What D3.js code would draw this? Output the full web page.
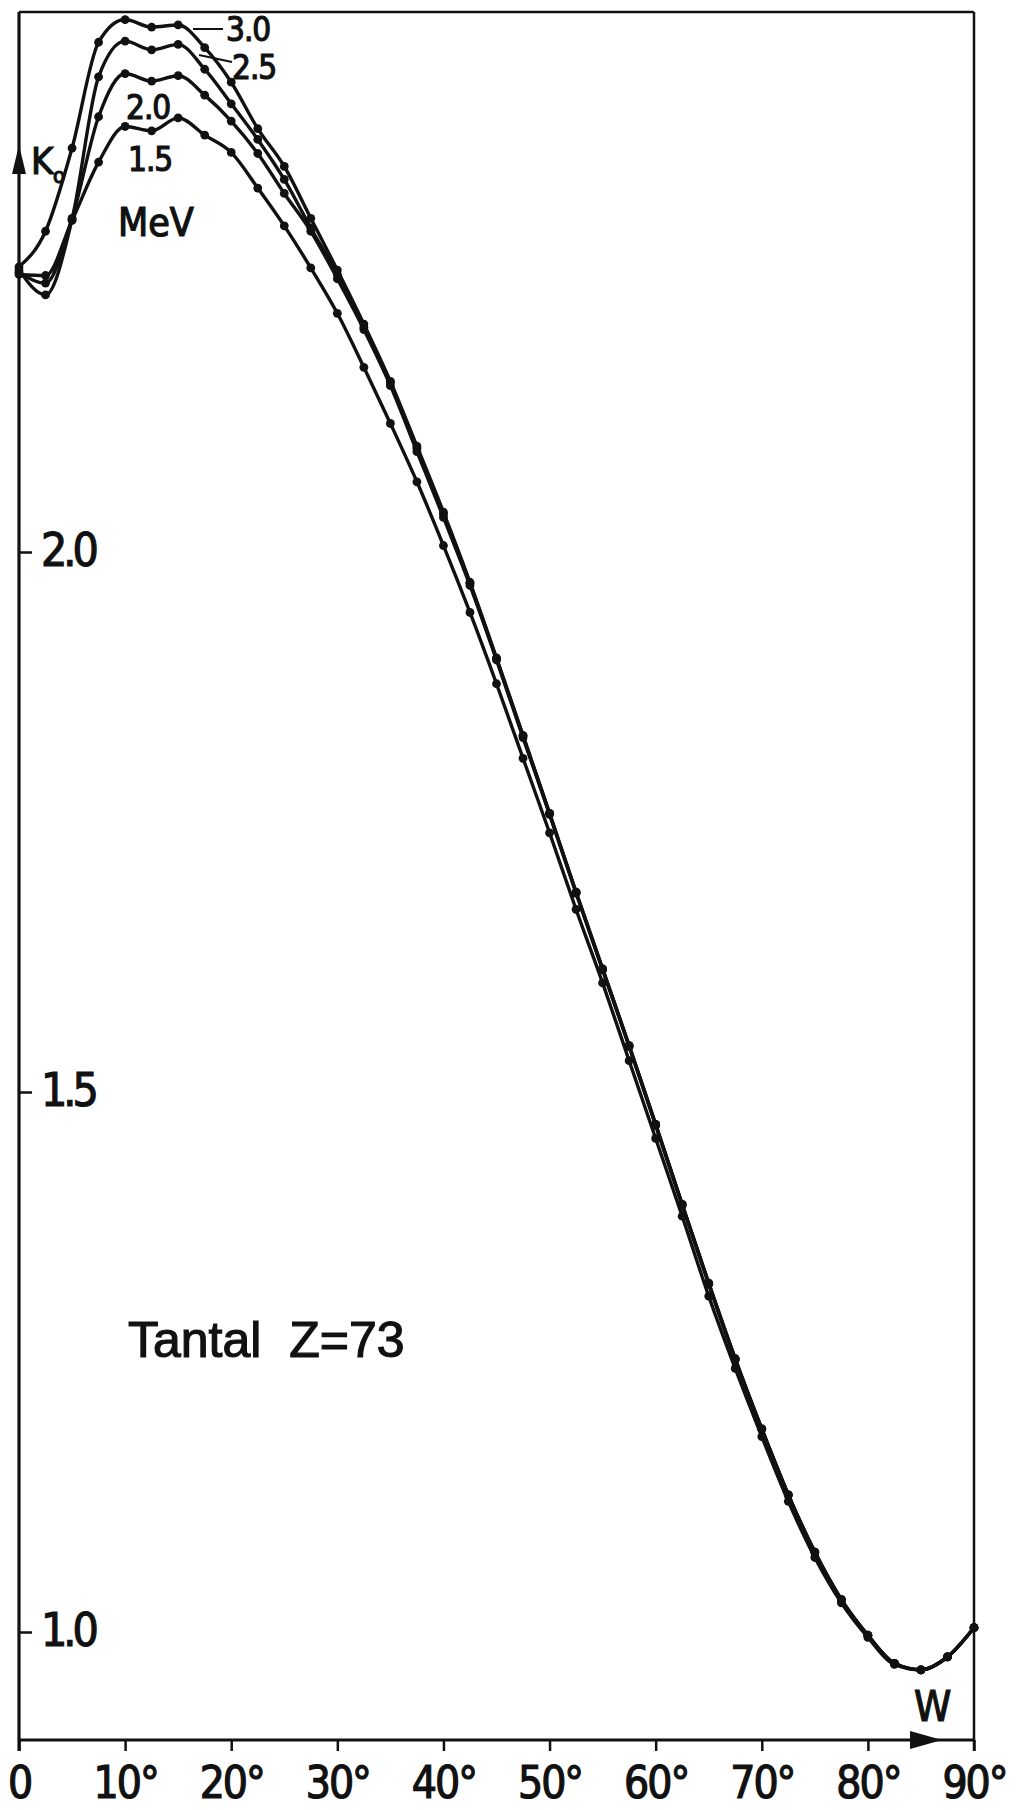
<!DOCTYPE html>
<html>
<head>
<meta charset="utf-8">
<script src="https://cdnjs.cloudflare.com/ajax/libs/d3/7.8.5/d3.min.js"></script>
<style>
	body { margin: 0; background: #ffffff; }
	text { font-family: "Liberation Sans Narrow", "DejaVu Sans Condensed", "Liberation Sans", sans-serif; fill: #111111; stroke: #111111; stroke-width: 1.2px; }
</style>
</head>
<body>
<div id="chart"></div>
<script>

	///////////////////////////////////////////////////////////////////////////
	//////////////////////////////// The data /////////////////////////////////
	///////////////////////////////////////////////////////////////////////////

	//angle W in degrees
	var angles = [0, 2.5, 5, 7.5, 10, 12.5, 15, 17.5, 20, 22.5, 25, 27.5, 30, 32.5, 35,
		37.5, 40, 42.5, 45, 47.5, 50, 52.5, 55, 57.5, 60, 62.5, 65, 67.5, 70, 72.5,
		75, 77.5, 80, 82.5, 85, 87.5, 90];

	//K_o for each energy (MeV)
	var k15 = [2.257, 2.256, 2.307, 2.361, 2.394, 2.390, 2.402, 2.386, 2.370, 2.337, 2.302, 2.263, 2.221, 2.171, 2.119,
		2.065, 2.006, 1.944, 1.878, 1.809, 1.740, 1.669, 1.601, 1.529, 1.457, 1.385, 1.311, 1.244, 1.181, 1.121,
		1.069, 1.027, 0.995, 0.970, 0.965, 0.977, 1.004];
	var k20 = [2.259, 2.249, 2.309, 2.403, 2.443, 2.436, 2.441, 2.423, 2.399, 2.369, 2.332, 2.297, 2.253, 2.206, 2.154,
		2.093, 2.032, 1.969, 1.900, 1.828, 1.757, 1.684, 1.613, 1.542, 1.469, 1.395, 1.322, 1.252, 1.188, 1.127,
		1.074, 1.030, 0.997, 0.971, 0.965, 0.977, 1.004];
	var k25 = [2.261, 2.238, 2.308, 2.440, 2.473, 2.465, 2.470, 2.447, 2.415, 2.382, 2.345, 2.300, 2.257, 2.208, 2.157,
		2.096, 2.035, 1.971, 1.901, 1.830, 1.758, 1.685, 1.614, 1.543, 1.470, 1.396, 1.323, 1.253, 1.188, 1.127,
		1.074, 1.030, 0.997, 0.971, 0.965, 0.977, 1.004];
	var k30 = [2.264, 2.297, 2.374, 2.472, 2.493, 2.486, 2.488, 2.467, 2.435, 2.392, 2.357, 2.309, 2.261, 2.211, 2.158,
		2.098, 2.037, 1.972, 1.902, 1.830, 1.758, 1.685, 1.614, 1.543, 1.470, 1.396, 1.323, 1.253, 1.188, 1.127,
		1.074, 1.030, 0.997, 0.971, 0.965, 0.977, 1.004];

	var energies = ["1.5", "2.0", "2.5", "3.0"];
	var seriesValues = [k15, k20, k25, k30];

	var xTicks = [0, 10, 20, 30, 40, 50, 60, 70, 80, 90];
	var xTickLabels = ["0", "10°", "20°", "30°", "40°", "50°", "60°", "70°", "80°", "90°"];
	var yTicks = [1.0, 1.5, 2.0];
	var yTickLabels = ["1.0", "1.5", "2.0"];

	///////////////////////////////////////////////////////////////////////////
	/////////////////////////////// Set up svg ////////////////////////////////
	///////////////////////////////////////////////////////////////////////////

	var totalWidth = 1022,
		totalHeight = 1810;
	var margin = { top: 12, right: 48, bottom: 70, left: 19 };
	var width = totalWidth - margin.left - margin.right;
	var height = totalHeight - margin.top - margin.bottom;

	var ink = "#111111";

	var svg = d3.select("#chart").append("svg")
		.attr("width", totalWidth)
		.attr("height", totalHeight)
		.append("g")
		.attr("transform", "translate(" + margin.left + "," + margin.top + ")");

	var x = d3.scaleLinear().domain([0, 90]).range([0, width]);
	var y = d3.scaleLinear().domain([0.9, 2.5]).range([height, 0]);

	///////////////////////////////////////////////////////////////////////////
	///////////////////////////////// Frame ///////////////////////////////////
	///////////////////////////////////////////////////////////////////////////

	//top and right border
	svg.append("line")
		.attr("x1", 0).attr("x2", width)
		.attr("y1", 0).attr("y2", 0)
		.style("stroke", ink).style("stroke-width", 2.5);
	svg.append("line")
		.attr("x1", width).attr("x2", width)
		.attr("y1", 0).attr("y2", height + 11)
		.style("stroke", ink).style("stroke-width", 2.5);

	//x axis
	var xAxis = svg.append("g")
		.attr("class", "x axis")
		.attr("transform", "translate(0," + height + ")")
		.call(d3.axisBottom(x)
			.tickValues(xTicks)
			.tickSize(11)
			.tickPadding(14)
			.tickFormat(function(d, i) { return xTickLabels[i]; }));
	xAxis.select(".domain").remove();
	xAxis.selectAll(".tick line").style("stroke", ink).style("stroke-width", 2.5);
	xAxis.selectAll(".tick text")
		.attr("dy", "0.74em")
		.style("font-size", "44px")
		.style("letter-spacing", "-2px")
		.style("fill", ink);
	svg.append("line")
		.attr("x1", 0).attr("x2", width)
		.attr("y1", height).attr("y2", height)
		.style("stroke", ink).style("stroke-width", 3.2);

	//y axis, ticks point inwards
	var yAxis = svg.append("g")
		.attr("class", "y axis")
		.call(d3.axisRight(y)
			.tickValues(yTicks)
			.tickSize(13)
			.tickPadding(9)
			.tickFormat(function(d, i) { return yTickLabels[i]; }));
	yAxis.select(".domain").remove();
	yAxis.selectAll(".tick line").style("stroke", ink).style("stroke-width", 2.5);
	yAxis.selectAll(".tick text")
		.attr("dy", "0.3em")
		.style("font-size", "46px")
		.style("letter-spacing", "-4px")
		.style("fill", ink);
	svg.append("line")
		.attr("x1", 0).attr("x2", 0)
		.attr("y1", 0).attr("y2", height + 11)
		.style("stroke", ink).style("stroke-width", 3.2);

	//arrow heads on the axes
	svg.append("path")
		.attr("d", "M0,133 L-7,162 L7,162 Z")
		.style("fill", ink);
	svg.append("path")
		.attr("d", "M923," + height + " L891," + (height - 9) + " L891," + (height + 9) + " Z")
		.style("fill", ink);

	///////////////////////////////////////////////////////////////////////////
	///////////////////////////////// Curves //////////////////////////////////
	///////////////////////////////////////////////////////////////////////////

	var series = energies.map(function(e, j) {
		return {
			energy: e,
			values: angles.map(function(a, i) { return { angle: a, k: seriesValues[j][i] }; })
		};
	});

	var line = d3.line()
		.curve(d3.curveMonotoneX)
		.x(function(d) { return x(d.angle); })
		.y(function(d) { return y(d.k); });

	var curveWrapper = svg.append("g").attr("class", "curve-wrapper");

	curveWrapper.selectAll(".curve")
		.data(series)
		.enter().append("path")
		.attr("class", "curve")
		.attr("d", function(d) { return line(d.values); })
		.style("fill", "none")
		.style("stroke", ink)
		.style("stroke-width", 3.4)
		.style("stroke-linejoin", "round");

	curveWrapper.selectAll(".dots")
		.data(series)
		.enter().append("g")
		.attr("class", "dots")
		.selectAll("circle")
		.data(function(d) { return d.values; })
		.enter().append("circle")
		.attr("cx", function(d) { return x(d.angle); })
		.attr("cy", function(d) { return y(d.k); })
		.attr("r", 4.4)
		.style("fill", ink);

	///////////////////////////////////////////////////////////////////////////
	///////////////////////////////// Labels //////////////////////////////////
	///////////////////////////////////////////////////////////////////////////

	//leader lines for the two top curves
	svg.append("line")
		.attr("x1", 174).attr("y1", 17).attr("x2", 204).attr("y2", 17)
		.style("stroke", ink).style("stroke-width", 2);
	svg.append("line")
		.attr("x1", 180).attr("y1", 43).attr("x2", 213).attr("y2", 50)
		.style("stroke", ink).style("stroke-width", 2);

	var curveLabels = [
		{ text: "3.0", x: 207, y: 29 },
		{ text: "2.5", x: 213, y: 67 },
		{ text: "2.0", x: 107, y: 107 },
		{ text: "1.5", x: 109, y: 159 }
	];
	svg.selectAll(".curve-label")
		.data(curveLabels)
		.enter().append("text")
		.attr("class", "curve-label")
		.attr("x", function(d) { return d.x; })
		.attr("y", function(d) { return d.y; })
		.style("font-size", "33px")
		.style("letter-spacing", "-1px")
		.style("fill", ink)
		.text(function(d) { return d.text; });

	svg.append("text")
		.attr("x", 99).attr("y", 224)
		.style("font-size", "39px")
		.style("fill", ink)
		.text("MeV");

	//axis titles
	svg.append("text")
		.attr("x", 12).attr("y", 162)
		.style("font-size", "38px")
		.style("fill", ink)
		.text("K");
	svg.append("text")
		.attr("x", 34).attr("y", 171)
		.style("font-size", "22px")
		.style("fill", ink)
		.text("o");
	svg.append("text")
		.attr("x", 895).attr("y", height - 19)
		.style("font-size", "42px")
		.style("fill", ink)
		.text("W");

	svg.append("text")
		.attr("x", 109).attr("y", 1345)
		.style("font-family", "'Liberation Sans', Arial, sans-serif")
		.style("font-size", "50px")
		.style("fill", ink)
		.text("Tantal\u00A0\u00A0Z=73");

</script>
</body>
</html>
